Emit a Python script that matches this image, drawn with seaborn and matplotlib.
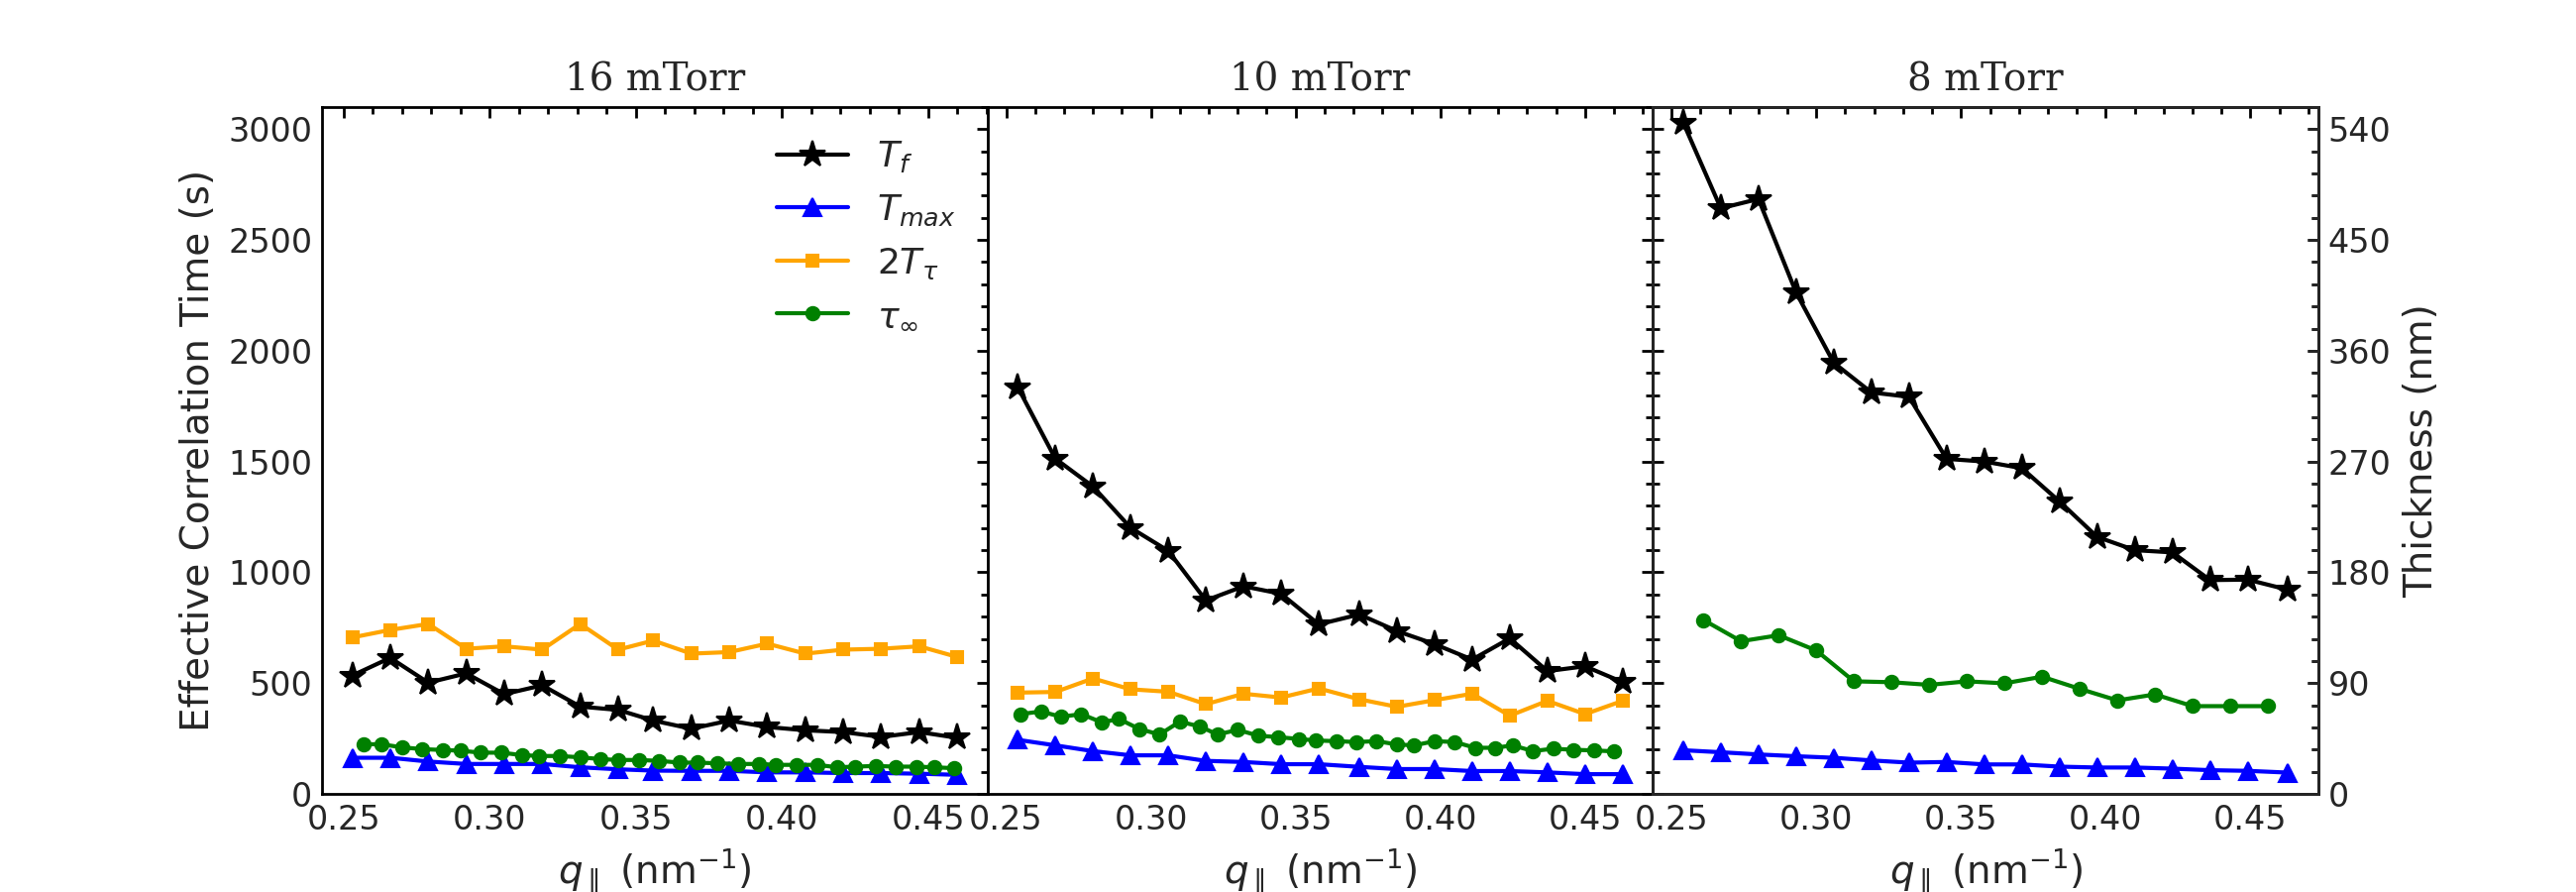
import matplotlib
matplotlib.use("Agg")
import matplotlib.pyplot as plt
import seaborn as sns
from matplotlib.ticker import MultipleLocator

# Data (q in nm^-1, times in s)
titles = ["16 mTorr", "10 mTorr", "8 mTorr"]

# 16 mTorr
q_16 = [0.253, 0.266, 0.279, 0.292, 0.305, 0.318, 0.331, 0.344, 0.356,
        0.369, 0.382, 0.395, 0.408, 0.421, 0.434, 0.447, 0.460]
tf_16 = [534, 614, 502, 544, 450, 490, 394, 379, 331, 294, 331, 302, 287,
         279, 257, 279, 253]
tmax_16 = [163, 163, 146, 135, 135, 135, 120, 111, 105, 104, 104, 97, 97,
           94, 94, 91, 86]
ttau_16 = [706, 740, 767, 655, 666, 651, 767, 651, 692, 633, 640, 678, 633,
           651, 655, 666, 618]
qinf_16 = [0.257, 0.263, 0.270, 0.277, 0.284, 0.290, 0.297, 0.304, 0.311,
           0.317, 0.324, 0.331, 0.338, 0.344, 0.351, 0.358, 0.365, 0.371,
           0.378, 0.385, 0.392, 0.398, 0.405, 0.412, 0.419, 0.425, 0.432,
           0.439, 0.446, 0.452, 0.459]
tinf_16 = [224, 224, 210, 202, 198, 195, 186, 186, 175, 171, 171, 165, 157,
           153, 153, 149, 141, 141, 138, 135, 135, 131, 131, 131, 120, 123,
           126, 123, 123, 120, 116]

# 10 mTorr
q_10 = [0.254, 0.267, 0.280, 0.293, 0.306, 0.319, 0.332, 0.345, 0.358,
        0.372, 0.385, 0.398, 0.411, 0.424, 0.437, 0.450, 0.463]
tf_10 = [1836, 1513, 1387, 1201, 1097, 873, 937, 903, 765, 810, 735, 676,
         606, 702, 554, 576, 504]
tmax_10 = [244, 219, 193, 174, 174, 149, 144, 134, 134, 122, 112, 112, 103,
           103, 97, 89, 89]
ttau_10 = [457, 460, 521, 472, 461, 405, 452, 435, 476, 427, 393, 423, 452,
           353, 420, 360, 420]
qinf_10 = [0.255, 0.262, 0.269, 0.276, 0.283, 0.289, 0.296, 0.303, 0.310,
           0.317, 0.323, 0.330, 0.337, 0.344, 0.351, 0.357, 0.364, 0.371,
           0.378, 0.385, 0.391, 0.398, 0.405, 0.412, 0.419, 0.425, 0.432,
           0.439, 0.446, 0.453, 0.460]
tinf_10 = [360, 372, 348, 360, 323, 338, 293, 268, 326, 304, 268, 289, 263,
           256, 248, 241, 238, 234, 238, 223, 219, 238, 234, 208, 208, 219,
           193, 204, 199, 196, 192]

# 8 mTorr (no 2T_tau series)
q_8 = [0.254, 0.267, 0.280, 0.293, 0.306, 0.319, 0.332, 0.345, 0.358,
       0.371, 0.384, 0.397, 0.410, 0.423, 0.436, 0.449, 0.463]
tf_8 = [3030, 2643, 2685, 2263, 1946, 1812, 1792, 1512, 1500, 1470, 1320,
        1160, 1100, 1090, 965, 967, 921]
tmax_8 = [197, 188, 178, 170, 163, 151, 141, 144, 133, 133, 123, 119, 119,
          114, 107, 104, 96]
qinf_8 = [0.261, 0.274, 0.287, 0.300, 0.313, 0.326, 0.339, 0.352, 0.365,
          0.378, 0.391, 0.404, 0.417, 0.430, 0.443, 0.456]
tinf_8 = [785, 689, 716, 647, 508, 504, 492, 508, 499, 529, 474, 422, 449,
          396, 396, 396]

thickness_per_second = 0.18  # right axis of last panel

sns.set_style("white")
plt.rcParams["font.family"] = ["DejaVu Sans"]
plt.rcParams["mathtext.fontset"] = "dejavusans"

fig, axes = plt.subplots(1, 3, figsize=(13, 4.5), dpi=200, sharey=True)
fig.subplots_adjust(left=0.125, right=0.9, top=0.88, bottom=0.11, wspace=0)

panels = [
    (q_16, tf_16, tmax_16, ttau_16, qinf_16, tinf_16),
    (q_10, tf_10, tmax_10, ttau_10, qinf_10, tinf_10),
    (q_8, tf_8, tmax_8, None, qinf_8, tinf_8),
]

for ax, title, (q, tf, tmax, ttau, qinf, tinf) in zip(axes, titles, panels):
    sns.lineplot(x=q, y=tf, ax=ax, color="black", marker="*", markersize=10,
                 markeredgecolor="black", lw=1.5, errorbar=None, label="$T_f$")
    sns.lineplot(x=q, y=tmax, ax=ax, color="blue", marker="^", markersize=6.8,
                 markeredgecolor="blue", lw=1.5, errorbar=None, label="$T_{max}$")
    if ttau is not None:
        sns.lineplot(x=q, y=ttau, ax=ax, color="orange", marker="s", markersize=4.6,
                     markeredgecolor="orange", lw=1.5, errorbar=None,
                     label="$2T_\\tau$")
    sns.lineplot(x=qinf, y=tinf, ax=ax, color="green", marker="o", markersize=4.8,
                 markeredgecolor="green", lw=1.5, errorbar=None,
                 label="$\\tau_\\infty$")

    ax.set_title(title, family="DejaVu Serif", fontsize=14)
    ax.set_xlabel(r"$q_\parallel$ (nm$^{-1}$)", fontsize=14)
    ax.xaxis.set_major_locator(MultipleLocator(0.05))
    ax.xaxis.set_minor_locator(MultipleLocator(0.01))
    ax.yaxis.set_major_locator(MultipleLocator(500))
    ax.yaxis.set_minor_locator(MultipleLocator(100))
    ax.set_ylim(0, 3100)
    for s in ax.spines.values():
        s.set_linewidth(1.0)
        s.set_color("black")

axes[0].set_ylabel("Effective Correlation Time (s)", fontsize=14)
axes[0].legend(loc="upper right", frameon=False, fontsize=13)
axes[1].get_legend().remove()
axes[2].get_legend().remove()

# thickness axis on the last panel
ax_t = axes[2].twinx()
ax_t.set_ylim(0, 3100 * thickness_per_second)
ax_t.yaxis.set_major_locator(MultipleLocator(90))
ax_t.yaxis.set_minor_locator(MultipleLocator(18))
ax_t.set_ylabel("Thickness (nm)", fontsize=14)
ax_t.tick_params(which="both", direction="in", labelsize=12, width=1.0)
ax_t.tick_params(which="major", length=4)
ax_t.tick_params(which="minor", length=2.5)
for s in ax_t.spines.values():
    s.set_linewidth(1.0)

for ax in axes:
    ax.tick_params(which="both", direction="in", top=True, right=True,
                   labelsize=12, width=1.0, color="black")
    ax.tick_params(which="major", length=4)
    ax.tick_params(which="minor", length=2.5)

fig.savefig("out.png", dpi=200)
